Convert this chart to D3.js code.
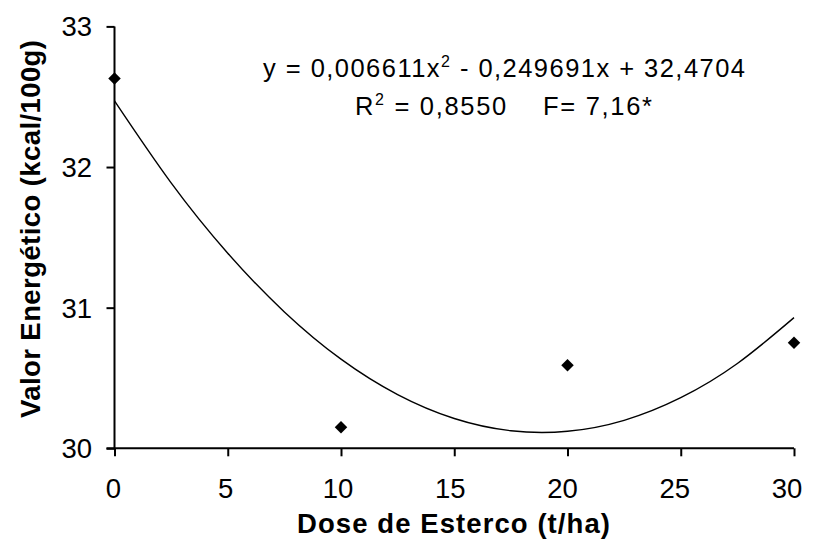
<!DOCTYPE html>
<html><head><meta charset="utf-8">
<script src="https://cdn.jsdelivr.net/npm/d3@7"></script>
<style>
html,body{margin:0;padding:0;background:#fff;}
svg text{font-family:"Liberation Sans",Arial,sans-serif;fill:#000;}
</style></head>
<body>
<svg id="chart" width="813" height="545"></svg>
<script>
// Observed data
const doses = [0, 10, 20, 30];
const energy = [32.63, 30.15, 30.59, 30.75];
// Fitted trend curve values read along x
const trendX = [0, 2.5, 5, 7.5, 10, 12.5, 15, 17.5, 20, 22.5, 25, 27.5, 30];
const trendY = [32.47, 31.887, 31.387, 30.970, 30.634, 30.382, 30.212, 30.125, 30.121, 30.199, 30.360, 30.603, 30.929];
const xTicks = [0, 5, 10, 15, 20, 25, 30];
const yTicks = [30, 31, 32, 33];
const eqLine1 = ["y = 0,006611x", "2", " - 0,249691x + 32,4704"];
const eqLine2 = ["R", "2", " = 0,8550    F= 7,16*"];
const xTitle = "Dose de Esterco (t/ha)";
const yTitle = "Valor Energético (kcal/100g)";

const svg = d3.select("#chart");
const x = d3.scaleLinear().domain([0, 30]).range([114.5, 794]);
const xLab = d3.scaleLinear().domain([0, 30]).range([113.5, 787]);
const y = d3.scaleLinear().domain([30, 33]).range([448.3, 26.4]);

// Y axis
const yAxis = svg.append("g").attr("transform", `translate(${x(0)},0)`)
  .call(d3.axisLeft(y).tickValues(yTicks).tickSize(8).tickFormat(""));
yAxis.select(".domain").attr("d", `M0,${y(33)}V${y(30)}`).attr("stroke-width", 2);
yAxis.selectAll(".tick line").attr("stroke-width", 2);
svg.append("g").selectAll("text").data(yTicks).join("text")
  .attr("x", 92).attr("y", d => y(d)).attr("dy", "0.36em")
  .attr("text-anchor", "end").attr("font-size", 27.5).text(d => d);

// X axis
const xAxis = svg.append("g").attr("transform", `translate(0,${y(30)})`)
  .call(d3.axisBottom(x).tickValues(xTicks).tickSize(8).tickFormat(""));
xAxis.select(".domain").attr("d", `M${x(0) - 8},0H${x(30)}`).attr("stroke-width", 2);
xAxis.selectAll(".tick line").attr("stroke-width", 2);
svg.append("g").selectAll("text").data(xTicks).join("text")
  .attr("x", d => xLab(d)).attr("y", 498)
  .attr("text-anchor", "middle").attr("font-size", 27.5).text(d => d);

// Titles
svg.append("text").attr("x", 453.5).attr("y", 533).attr("text-anchor", "middle")
  .attr("font-size", 27.5).attr("font-weight", "bold")
  .attr("textLength", 313).attr("lengthAdjust", "spacing").text(xTitle);
svg.append("text").attr("transform", "translate(39.5,229) rotate(-90)")
  .attr("text-anchor", "middle").attr("font-size", 27.5).attr("font-weight", "bold")
  .attr("textLength", 378).attr("lengthAdjust", "spacing").text(yTitle);

// Trend curve
const line = d3.line().x(d => x(d[0])).y(d => y(d[1])).curve(d3.curveNatural);
svg.append("path").datum(trendX.map((v, i) => [v, trendY[i]]))
  .attr("d", line).attr("fill", "none").attr("stroke", "#000").attr("stroke-width", 1.4);

// Points (diamonds)
const diamond = d3.symbol().type(d3.symbolSquare).size(78);
svg.append("g").selectAll("path").data(doses).join("path")
  .attr("d", diamond)
  .attr("transform", (d, i) => `translate(${x(d)},${y(energy[i])}) rotate(45)`)
  .attr("fill", "#000");

// Equation text
function eq(parts, x0, yb, len) {
  const t = svg.append("text").attr("x", x0).attr("y", yb).attr("font-size", 25.5)
    .attr("xml:space", "preserve").style("white-space", "pre")
    .attr("textLength", len).attr("lengthAdjust", "spacing");
  t.append("tspan").text(parts[0]);
  t.append("tspan").attr("dy", -10).attr("font-size", 16).text(parts[1]);
  t.append("tspan").attr("dy", 10).text(parts[2]);
}
eq(eqLine1, 263, 76.7, 482);
eq(eqLine2, 355, 115, 297);
</script>
</body></html>
